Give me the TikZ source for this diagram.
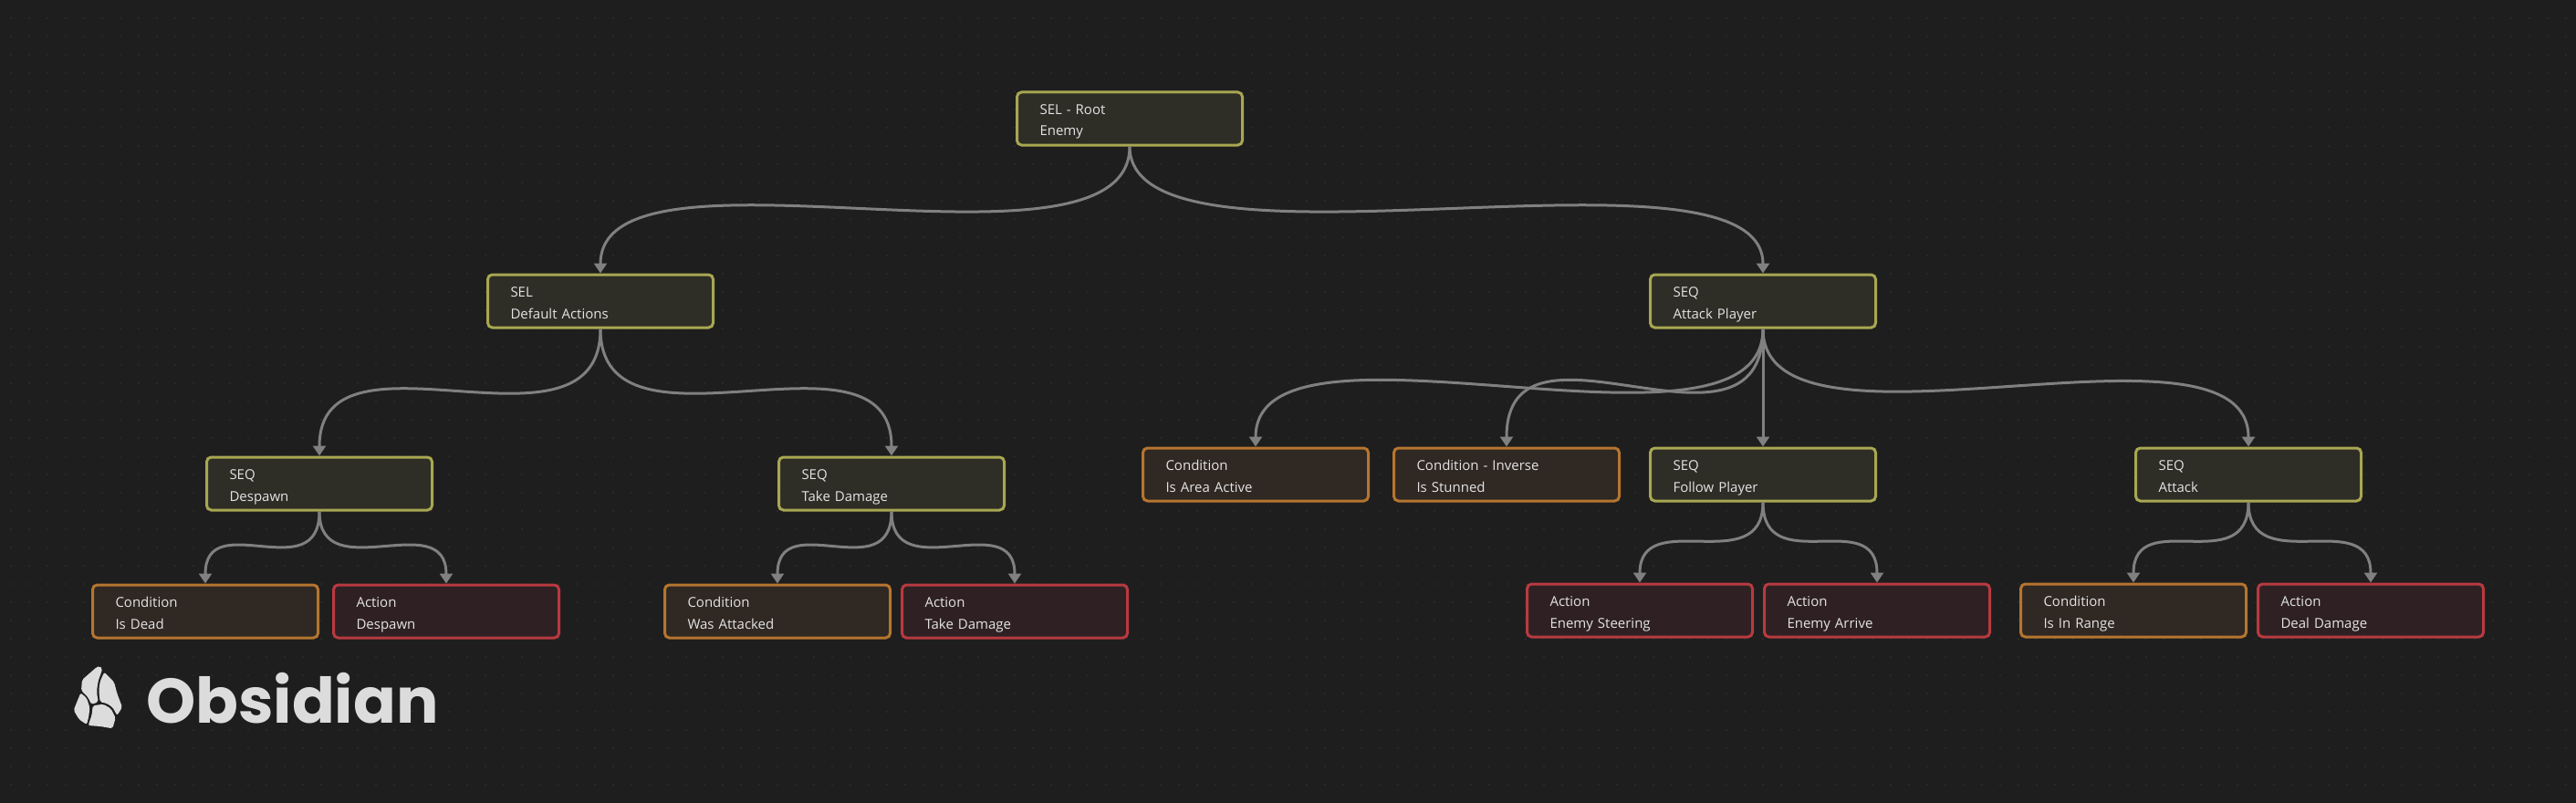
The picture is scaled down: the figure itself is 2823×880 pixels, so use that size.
\documentclass[tikz,border=0pt]{standalone}
\usepackage{fontspec}
\usepackage{xcolor}
\usetikzlibrary{arrows.meta}
\setmainfont{Open Sans}
\newfontfamily\logofont{Poppins}
\definecolor{canvasbg}{HTML}{1E1E1E}
\definecolor{griddot}{HTML}{282828}
\definecolor{linkgray}{HTML}{808080}
\definecolor{logogray}{HTML}{DCDCDC}
\definecolor{nodetext}{HTML}{E4E4E4}
\definecolor{selline}{HTML}{A8A752}
\definecolor{selfill}{HTML}{2E2D26}
\definecolor{condline}{HTML}{B5752F}
\definecolor{condfill}{HTML}{2F2823}
\definecolor{actline}{HTML}{B83A40}
\definecolor{actfill}{HTML}{2F2123}
\tikzset{
  card/.style={draw, line width=3pt, rounded corners=5pt, minimum height=58pt,
    text width=197pt, inner xsep=25pt, inner ysep=0pt, align=left, text=nodetext,
    font=\fontsize{15}{24}\selectfont, text height=18pt, text depth=28pt},
  sel/.style={card, draw=selline, fill=selfill},
  cond/.style={card, draw=condline, fill=condfill},
  act/.style={card, draw=actline, fill=actfill},
  link/.style={draw=linkgray, line width=3pt, -{Triangle[length=11pt,width=14pt]}},
  gem/.style={fill=logogray, rounded corners=2pt}
}
\begin{document}
\begin{tikzpicture}[x=1pt,y=-1pt]
\useasboundingbox (0,0) rectangle (2823,880);
\fill[canvasbg] (0,0) rectangle (2823,880);
% dot grid
\foreach \i in {0,...,140}
  \foreach \j in {1,...,43}
    \fill[griddot] (12+20*\i-0.8,20*\j-0.8) rectangle +(1.6,1.6);
% top of the tree
\node[sel] (root) at (1238,130) {SEL - Root\\Enemy};
\node[sel] (defaults) at (658,330) {SEL\\Default Actions};
\node[sel] (attackplayer) at (1932,330) {SEQ\\Attack Player};
% left branch
\node[sel] (despawnseq) at (350,530) {SEQ\\Despawn};
\node[sel] (damageseq) at (977,530) {SEQ\\Take Damage};
\node[cond] (isdead) at (225,670) {Condition\\Is Dead};
\node[act] (despawn) at (489,670) {Action\\Despawn};
\node[cond] (wasattacked) at (852,670) {Condition\\Was Attacked};
\node[act] (takedamage) at (1112,670) {Action\\Take Damage};
% right branch
\node[cond] (areaactive) at (1376,520) {Condition\\Is Area Active};
\node[cond] (stunned) at (1651,520) {Condition - Inverse\\Is Stunned};
\node[sel] (followplayer) at (1932,520) {SEQ\\Follow Player};
\node[sel] (attackseq) at (2464,520) {SEQ\\Attack};
\node[act] (steering) at (1797,669) {Action\\Enemy Steering};
\node[act] (arrive) at (2057,669) {Action\\Enemy Arrive};
\node[cond] (inrange) at (2338,669) {Condition\\Is In Range};
\node[act] (dealdamage) at (2598,669) {Action\\Deal Damage};
% connectors
\foreach \from/\to/\bend in {root/defaults/160, root/attackplayer/160,
    defaults/despawnseq/155, defaults/damageseq/155,
    despawnseq/isdead/85, despawnseq/despawn/85,
    damageseq/wasattacked/85, damageseq/takedamage/85,
    attackplayer/areaactive/165, attackplayer/stunned/165,
    attackplayer/followplayer/165, attackplayer/attackseq/160,
    followplayer/steering/85, followplayer/arrive/85,
    attackseq/inrange/85, attackseq/dealdamage/85}
  \draw[link] (\from.south) .. controls +(0,\bend) and +(0,-\bend) .. (\to.north);
% logo
\begin{scope}[shift={(70,720)},scale=1/3]
\fill[gem] (60,75) -- (108,33) -- (118,30) -- (127,38) -- (112,82) -- (108,115) -- (113,148) -- (90,156) -- (80,133) -- (57,110) -- cycle;
\fill[gem] (133,50) -- (165,82) -- (175,120) -- (192,165) -- (175,192) -- (160,165) -- (140,152) -- (119,148) -- (115,110) -- (119,80) -- cycle;
\fill[gem] (55,118) -- (75,135) -- (85,165) -- (82,195) -- (75,222) -- (50,205) -- (32,175) -- cycle;
\fill[gem] (95,160) -- (130,155) -- (155,170) -- (170,200) -- (160,235) -- (120,228) -- (80,225) -- (92,190) -- cycle;
\end{scope}
\node[anchor=base west, inner sep=0pt, text=logogray, font=\logofont\bfseries\fontsize{69}{69}\selectfont] (brand) at (160,792) {Obsidian};
\end{tikzpicture}
\end{document}
